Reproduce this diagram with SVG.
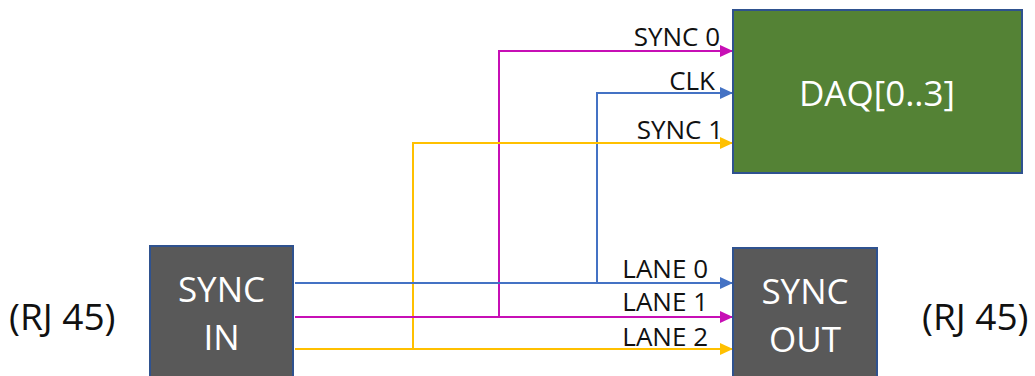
<svg xmlns="http://www.w3.org/2000/svg" width="1035" height="376" viewBox="0 0 1035 376">
<style>
.box{stroke:#2F528F;stroke-width:2}
.nt{font-family:"Open Sans","Liberation Sans",sans-serif;fill:#fff;text-anchor:middle;font-size:35px}
.lbl{font-family:"Open Sans","Liberation Sans",sans-serif;fill:#111;text-anchor:end;font-size:26px}
.rj{font-family:"Open Sans","Liberation Sans",sans-serif;fill:#111;font-size:37px}
.c{fill:none;stroke-width:2}
.m{stroke:#C70FB5}.b{stroke:#4472C4}.y{stroke:#FFC000}
</style>
<defs>
<marker id="am" markerUnits="userSpaceOnUse" markerWidth="13" markerHeight="12" refX="13" refY="6" orient="auto"><path d="M0,0 L13,6 L0,12 Z" fill="#C70FB5"/></marker>
<marker id="ab" markerUnits="userSpaceOnUse" markerWidth="13" markerHeight="12" refX="13" refY="6" orient="auto"><path d="M0,0 L13,6 L0,12 Z" fill="#4472C4"/></marker>
<marker id="ay" markerUnits="userSpaceOnUse" markerWidth="13" markerHeight="12" refX="13" refY="6" orient="auto"><path d="M0,0 L13,6 L0,12 Z" fill="#FFC000"/></marker>
</defs>
<g id="connectors">
<path class="c m" d="M499,317 V51 H733" marker-end="url(#am)"/>
<path class="c b" d="M597,283 V93 H733" marker-end="url(#ab)"/>
<path class="c y" d="M413,349 V143 H733" marker-end="url(#ay)"/>
<path class="c b" d="M295,283 H733" marker-end="url(#ab)"/>
<path class="c m" d="M295,317 H733" marker-end="url(#am)"/>
<path class="c y" d="M295,349 H733" marker-end="url(#ay)"/>
<text class="lbl" x="720" y="46">SYNC 0</text>
<text class="lbl" x="715" y="90">CLK</text>
<text class="lbl" x="723" y="139">SYNC 1</text>
<text class="lbl" x="708" y="278">LANE 0</text>
<text class="lbl" x="708" y="311">LANE 1</text>
<text class="lbl" x="708" y="346">LANE 2</text>
</g>
<g id="daq">
<rect class="box" x="733" y="10" width="289" height="163" fill="#548235"/>
<text class="nt" x="877" y="106" font-size="36">DAQ[0..3]</text>
</g>
<g id="sync-in">
<rect class="box" x="150" y="246" width="143" height="140" fill="#595959"/>
<text class="nt" x="221.5" y="302">SYNC</text>
<text class="nt" x="221.5" y="350">IN</text>
</g>
<g id="sync-out">
<rect class="box" x="733" y="248" width="144" height="140" fill="#595959"/>
<text class="nt" x="805" y="304">SYNC</text>
<text class="nt" x="805" y="352">OUT</text>
</g>
<g id="rj-left"><text class="rj" x="9" y="330">(RJ 45)</text></g>
<g id="rj-right"><text class="rj" x="922" y="330">(RJ 45)</text></g>
</svg>
